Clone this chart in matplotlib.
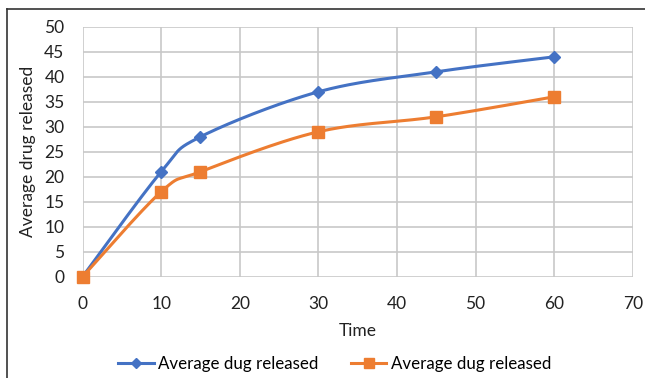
import numpy as np
import matplotlib
matplotlib.use("Agg")
import matplotlib.pyplot as plt
from matplotlib.lines import Line2D

time = [0, 10, 15, 30, 45, 60]
series1 = [0, 21, 28, 37, 41, 44]
series2 = [0, 17, 21, 29, 32, 36]
label1 = "Average dug released"
label2 = "Average dug released"
xticks = [0, 10, 20, 30, 40, 50, 60, 70]
yticks = [0, 5, 10, 15, 20, 25, 30, 35, 40, 45, 50]

plt.rcParams['font.family'] = ['Lato', 'DejaVu Sans']

fig = plt.figure(figsize=(6.45, 3.78), dpi=100)
ax = fig.add_axes([0.128, 0.268, 0.853, 0.661])
ax.set_xlim(0, 70)
ax.set_ylim(0, 50)
ax.set_xticks(xticks)
ax.set_yticks(yticks)
ax.grid(True, color='#c8c8c8', linewidth=1.2)
ax.set_axisbelow(True)
for s in ax.spines.values():
    s.set_visible(False)
ax.tick_params(length=0, labelsize=12.5, colors='#222222')
ax.tick_params(axis='y', pad=13)
ax.tick_params(axis='x', pad=14)

fig.canvas.draw()

def smooth(xs, ys, n=40):
    pts = ax.transData.transform(np.column_stack([xs, ys]))
    out = [pts[0]]
    m = len(pts)
    for i in range(m - 1):
        p0 = pts[i - 1] if i > 0 else pts[i]
        p1 = pts[i]
        p2 = pts[i + 1]
        p3 = pts[i + 2] if i + 2 < m else pts[i + 1]
        c1 = p1 + (p2 - p0) / 6.0
        c2 = p2 - (p3 - p1) / 6.0
        t = np.linspace(0, 1, n)[1:, None]
        b = (1 - t) ** 3 * p1 + 3 * (1 - t) ** 2 * t * c1 + 3 * (1 - t) * t ** 2 * c2 + t ** 3 * p2
        out.extend(b)
    out = np.array(out)
    d = ax.transData.inverted().transform(out)
    return d[:, 0], d[:, 1]

blue = '#4472C4'
orange = '#ED7D31'
sx, sy = smooth(time, series1)
ax.plot(sx, sy, color=blue, lw=2.2, solid_capstyle='round', clip_on=False)
ax.plot(time, series1, ls='none', marker='D', ms=6.5, color=blue, clip_on=False)
sx, sy = smooth(time, series2)
ax.plot(sx, sy, color=orange, lw=2.2, solid_capstyle='round', clip_on=False)
ax.plot(time, series2, ls='none', marker='s', ms=8, color=orange, clip_on=False)

ax.set_xlabel('Time', fontsize=12.5, color='#222222', labelpad=8)
ax.set_ylabel('Average drug released', fontsize=12.5, color='#222222', labelpad=6)

handles = [Line2D([], [], color=blue, lw=2.2, marker='D', ms=5.5),
           Line2D([], [], color=orange, lw=2.2, marker='s', ms=7)]
fig.legend(handles, [label1, label2], loc='center', bbox_to_anchor=(0.519, 0.037),
           ncol=2, frameon=False, fontsize=12.2, handlelength=2.1, columnspacing=1.9,
           handletextpad=0.25)

fig.add_artist(Line2D([7/645, 7/645], [0, 1 - 9/378], color='#333333', lw=1.2))
fig.add_artist(Line2D([7/645, 1], [1 - 9/378, 1 - 9/378], color='#333333', lw=1.2))

fig.savefig('out.png', dpi=100)
